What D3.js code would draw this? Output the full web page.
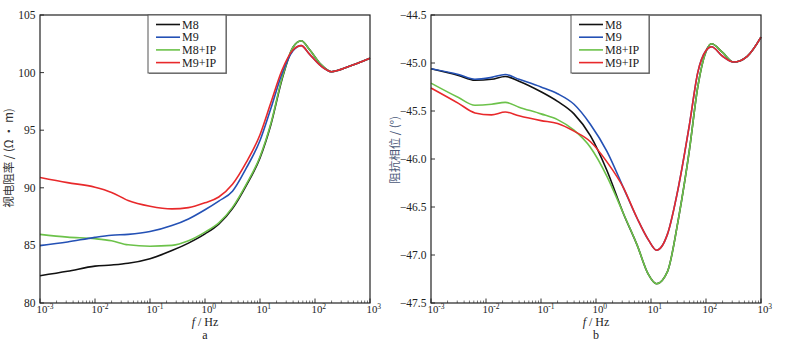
<!DOCTYPE html>
<html><head><meta charset="utf-8">
<script src="https://cdn.jsdelivr.net/npm/d3@7"></script>
<style>
body{margin:0;background:#fff;}
svg{display:block;}
</style></head>
<body><svg id="c" width="788" height="345"></svg>
<script>
// ---------- DATA ----------
const seriesNames = ["M8", "M9", "M8+IP", "M9+IP"];
const seriesColors = ["#111111", "#2451b5", "#6cc24a", "#e8292b"];

// panel a: apparent resistivity
const freqA = [0.001, 0.00316, 0.01, 0.02, 0.04, 0.1, 0.25, 0.5, 1, 1.78, 3.16, 5.62, 10, 15.8, 25.1, 39.8, 56.2, 79.4, 126, 200, 398, 1000];
const rhoM8   = [82.37, 82.75, 83.2, 83.3, 83.45, 83.85, 84.55, 85.2, 86.0, 86.85, 88.2, 90.2, 92.6, 95.5, 99.4, 102.2, 102.77, 102.0, 100.75, 100.08, 100.5, 101.24];
const rhoM9   = [84.98, 85.3, 85.7, 85.88, 85.96, 86.2, 86.72, 87.3, 88.1, 88.85, 89.7, 91.7, 94.1, 96.9, 99.9, 101.9, 102.34, 101.6, 100.6, 100.08, 100.5, 101.24];
const rhoM8IP = [85.96, 85.72, 85.58, 85.4, 85.05, 84.93, 85.0, 85.4, 86.15, 86.95, 88.3, 90.3, 92.7, 95.6, 99.5, 102.2, 102.77, 102.0, 100.75, 100.08, 100.5, 101.24];
const rhoM9IP = [90.9, 90.45, 90.05, 89.6, 88.9, 88.4, 88.17, 88.28, 88.7, 89.2, 90.3, 92.2, 94.6, 97.4, 100.2, 101.96, 102.34, 101.6, 100.6, 100.08, 100.5, 101.24];

// panel b: impedance phase
const freqB = [0.001, 0.00316, 0.0063, 0.0126, 0.0224, 0.0398, 0.1, 0.2, 0.398, 0.794, 1.58, 3.16, 5.62, 8.91, 12.6, 20, 31.6, 50.1, 70.8, 100, 126, 200, 316, 562, 1000];
const phM8   = [-45.06, -45.13, -45.18, -45.17, -45.14, -45.19, -45.30, -45.40, -45.53, -45.76, -46.12, -46.57, -46.90, -47.20, -47.30, -47.17, -46.62, -45.90, -45.25, -44.88, -44.80, -44.89, -44.99, -44.93, -44.73];
const phM9   = [-45.06, -45.12, -45.17, -45.15, -45.12, -45.17, -45.25, -45.32, -45.43, -45.64, -45.92, -46.30, -46.62, -46.84, -46.95, -46.78, -46.29, -45.64, -45.10, -44.87, -44.83, -44.93, -44.99, -44.93, -44.73];
const phM8IP = [-45.21, -45.36, -45.44, -45.43, -45.41, -45.46, -45.53, -45.59, -45.70, -45.88, -46.18, -46.57, -46.90, -47.20, -47.30, -47.17, -46.62, -45.90, -45.25, -44.88, -44.80, -44.89, -44.99, -44.93, -44.73];
const phM9IP = [-45.26, -45.42, -45.52, -45.54, -45.51, -45.55, -45.60, -45.63, -45.71, -45.82, -46.03, -46.30, -46.62, -46.84, -46.95, -46.78, -46.29, -45.64, -45.10, -44.87, -44.83, -44.93, -44.99, -44.93, -44.73];

const xTickVals = [0.001, 0.01, 0.1, 1, 10, 100, 1000];
const xTickExp = ["-3", "-2", "-1", "0", "1", "2", "3"];
const yTicksA = [80, 85, 90, 95, 100, 105];
const yTicksB = [-47.5, -47.0, -46.5, -46.0, -45.5, -45.0, -44.5];

const panels = [
  {left: 40, right: 370, freq: freqA, series: [rhoM8, rhoM9, rhoM8IP, rhoM9IP], yDom: [80, 105], yTicks: yTicksA, fmt: d3.format("d"),
   ylabel: "视电阻率 / (Ω · m)", ylabelColor: "#333", ylabelX: 13, ylabelY: 158, tag: "a", legX: 148},
  {left: 431, right: 761, freq: freqB, series: [phM8, phM9, phM8IP, phM9IP], yDom: [-47.5, -44.5], yTicks: yTicksB, fmt: d3.format(".1f"),
   ylabel: "阻抗相位 / (°)", ylabelColor: "#4a5878", ylabelX: 399, ylabelY: 150, tag: "b", legX: 571}
];
const plotTop = 15, plotBottom = 303;
const serif = "'Liberation Serif','Times New Roman',serif";
const svg = d3.select("#c");

panels.forEach(p => {
  const x = d3.scaleLog().domain([0.001, 1000]).range([p.left, p.right]);
  const y = d3.scaleLinear().domain(p.yDom).range([plotBottom, plotTop]);
  const g = svg.append("g");

  // minor ticks
  const minors = [];
  for (let e = -3; e < 3; e++) for (let k = 2; k <= 9; k++) minors.push(k * Math.pow(10, e));
  g.selectAll(".mn").data(minors).join("line")
    .attr("x1", d => x(d)).attr("x2", d => x(d)).attr("y1", plotBottom).attr("y2", plotBottom - 2.5)
    .attr("stroke", "#555").attr("stroke-width", 0.8);
  g.selectAll(".mj").data(xTickVals).join("line")
    .attr("x1", d => x(d)).attr("x2", d => x(d)).attr("y1", plotBottom).attr("y2", plotBottom - 4.5)
    .attr("stroke", "#333").attr("stroke-width", 1);
  g.selectAll(".yt").data(p.yTicks).join("line")
    .attr("x1", p.left).attr("x2", p.left + 4).attr("y1", d => y(d)).attr("y2", d => y(d))
    .attr("stroke", "#333").attr("stroke-width", 1);

  // x tick labels
  const xl = g.selectAll(".xl").data(xTickVals).join("text")
    .attr("x", d => x(d) - 3.5).attr("y", 313).attr("text-anchor", "start")
    .attr("font-family", serif).attr("font-size", 10.8).attr("fill", "#222");
  xl.append("tspan").text("10");
  xl.append("tspan").attr("dy", -4.5).attr("font-size", 7.5).text((d, i) => xTickExp[i]);

  // y tick labels
  g.selectAll(".yl").data(p.yTicks).join("text")
    .attr("x", p.left - 4.5).attr("y", d => y(d) + 4).attr("text-anchor", "end")
    .attr("font-family", serif).attr("font-size", 11.5).attr("fill", "#222")
    .text(d => p.fmt(d));

  // lines
  const line = d3.line().x(d => x(d[0])).y(d => y(d[1])).curve(d3.curveMonotoneX);
  [0, 2, 1, 3].forEach(si => {
    g.append("path").datum(p.freq.map((f, i) => [f, p.series[si][i]]))
      .attr("d", line).attr("fill", "none").attr("stroke", seriesColors[si]).attr("stroke-width", 1.6);
  });

  // frame
  g.append("rect").attr("x", p.left).attr("y", plotTop).attr("width", p.right - p.left).attr("height", plotBottom - plotTop)
    .attr("fill", "none").attr("stroke", "#222").attr("stroke-width", 1.2);

  // legend
  const lg = g.append("g").attr("transform", `translate(${p.legX},${plotTop})`);
  lg.append("rect").attr("x", 1).attr("y", 1).attr("width", 78).attr("height", 58).attr("fill", "#888");
  lg.append("rect").attr("x", 0).attr("y", 0).attr("width", 78).attr("height", 58).attr("fill", "#fff").attr("stroke", "#555").attr("stroke-width", 1);
  seriesNames.forEach((n, i) => {
    const yy = 9.5 + i * 12.7;
    lg.append("line").attr("x1", 8).attr("x2", 32).attr("y1", yy).attr("y2", yy)
      .attr("stroke", seriesColors[i]).attr("stroke-width", 1.6);
    lg.append("text").attr("x", 34).attr("y", yy + 4).attr("font-family", serif).attr("font-size", 12).attr("fill", "#222").text(n);
  });

  // axis titles
  const xt = g.append("text").attr("x", (p.left + p.right) / 2).attr("y", 326).attr("text-anchor", "middle")
    .attr("font-family", serif).attr("font-size", 12).attr("fill", "#222");
  xt.append("tspan").attr("font-style", "italic").text("f");
  xt.append("tspan").text(" / Hz");
  g.append("text").attr("x", (p.left + p.right) / 2).attr("y", 339).attr("text-anchor", "middle")
    .attr("font-family", serif).attr("font-size", 12).attr("fill", "#222").text(p.tag);
  g.append("text").attr("transform", `translate(${p.ylabelX},${p.ylabelY}) rotate(-90)`).attr("text-anchor", "middle")
    .attr("font-family", "'Noto Sans CJK SC', serif").attr("font-size", 11.5).attr("fill", p.ylabelColor).text(p.ylabel);
});
</script>
</body></html>
